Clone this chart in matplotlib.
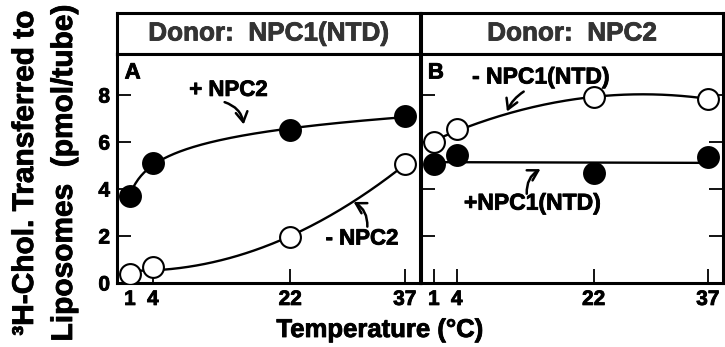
import numpy as np
import matplotlib.pyplot as plt
import matplotlib.patheffects as pe
from matplotlib.text import Text

plt.rcParams['font.family'] = ['Liberation Sans', 'DejaVu Sans']
plt.rcParams['font.weight'] = 'bold'

temps = [1, 4, 22, 37]
# panel A: donor NPC1(NTD)
a_plus_npc2 = [3.7, 5.1, 6.5, 7.1]
a_minus_npc2 = [0.4, 0.7, 1.95, 5.05]
# panel B: donor NPC2
b_minus_ntd = [6.0, 6.55, 7.9, 7.85]
b_plus_ntd = [5.05, 5.45, 4.68, 5.35]

yticks = [0, 2, 4, 6, 8]
headers = ['Donor:  NPC1(NTD)', 'Donor:  NPC2']

T = np.array(temps, float)
tt = np.linspace(1, 37, 200)


def log_fit(x, y):
    b, a = np.polyfit(np.log(x), y, 1)
    return a + b * np.log(tt)


def poly_fit(x, y, deg):
    return np.polyval(np.polyfit(x, y, deg), tt)


fig = plt.figure(figsize=(7.25, 3.47), dpi=100)
W, H = 725, 347
lw_sp = 2.2


def px_axes(x0, y0, x1, y1):
    return fig.add_axes([x0 / W, 1 - y1 / H, (x1 - x0) / W, (y1 - y0) / H])


panels = [(117, 420), (421, 723)]
axes = []
for (x0, x1), title in zip(panels, headers):
    hax = px_axes(x0, 13, x1, 54)
    hax.set_xticks([]); hax.set_yticks([])
    for s in hax.spines.values():
        s.set_linewidth(lw_sp)
    hax.text(0.5, 0.5, title, ha='center', va='center', fontsize=18.8,
             color='#333333', transform=hax.transAxes)
    ax = px_axes(x0, 54, x1, 283)
    for s in ax.spines.values():
        s.set_linewidth(lw_sp)
    ax.set_xlim(-0.7, 39.0)
    ax.set_ylim(0, 9.75)
    ax.set_xticks(temps)
    ax.set_yticks(yticks)
    ax.tick_params(direction='in', length=10, width=1.3, labelsize=15, pad=5)
    axes.append(ax)

axA, axB = axes
axB.tick_params(axis='y', left=True, right=True, labelleft=False)
axB.set_yticks([2, 4, 6, 8])

mk = dict(marker='o', markersize=15, markeredgecolor='black', markeredgewidth=1.5,
          linestyle='none', zorder=3)
crv = dict(color='black', lw=1.7, zorder=2)

axA.plot(tt, log_fit(T, a_plus_npc2), **crv)
axA.plot(tt, poly_fit(T, a_minus_npc2, 2), **crv)
axA.plot(temps, a_plus_npc2, markerfacecolor='black', **mk)
axA.plot(temps, a_minus_npc2, markerfacecolor='white', **mk)

axB.plot(tt, poly_fit(T, b_minus_ntd, 2), **crv)
axB.plot(tt, poly_fit(T, b_plus_ntd, 1), **crv)
axB.plot(temps, b_minus_ntd, markerfacecolor='white', **mk)
axB.plot(temps, b_plus_ntd, markerfacecolor='black', **mk)

arr = dict(arrowstyle='->,head_length=0.6,head_width=0.35', lw=1.8,
           color='black', mutation_scale=12, shrinkA=0, shrinkB=0)

axA.text(0.3, 8.94, 'A', fontsize=16, va='center', ha='left')
axA.text(13.9, 8.2, '+ NPC2', fontsize=16, va='center', ha='center')
axA.annotate('', xy=(15.9, 6.75), xytext=(13.4, 7.7),
             arrowprops=dict(connectionstyle='arc3,rad=-0.3', **arr))
axA.text(31.4, 1.87, '- NPC2', fontsize=16, va='center', ha='center')
axA.annotate('', xy=(30.3, 3.45), xytext=(32.1, 2.4),
             arrowprops=dict(connectionstyle='arc3,rad=0.3', **arr))

axB.text(0.2, 8.94, 'B', fontsize=16, va='center', ha='left')
axB.text(15.0, 8.77, '- NPC1(NTD)', fontsize=16.5, va='center', ha='center')
axB.annotate('', xy=(10.6, 7.3), xytext=(12.8, 8.15),
             arrowprops=dict(connectionstyle='arc3,rad=0.15', **arr))
axB.text(13.9, 3.4, '+NPC1(NTD)', fontsize=16.5, va='center', ha='center')
axB.annotate('', xy=(15.0, 4.85), xytext=(13.2, 3.8),
             arrowprops=dict(connectionstyle='arc3,rad=-0.3', **arr))

fig.text(380 / W, 1 - 330 / H, 'Temperature (°C)', fontsize=18.5,
         ha='center', va='center')
fig.text(25 / W, 1 - 173 / H, '³H-Chol. Transferred to', fontsize=21.5,
         rotation=90, ha='center', va='center')
fig.text(64 / W, 1 - 173 / H, 'Liposomes  (pmol/tube)', fontsize=21.5,
         rotation=90, ha='center', va='center')

# heavier strokes, like the scanned original
for t in fig.findobj(Text):
    t.set_path_effects([pe.withStroke(linewidth=0.6, foreground=t.get_color())])

fig.savefig('out.png', dpi=100)
